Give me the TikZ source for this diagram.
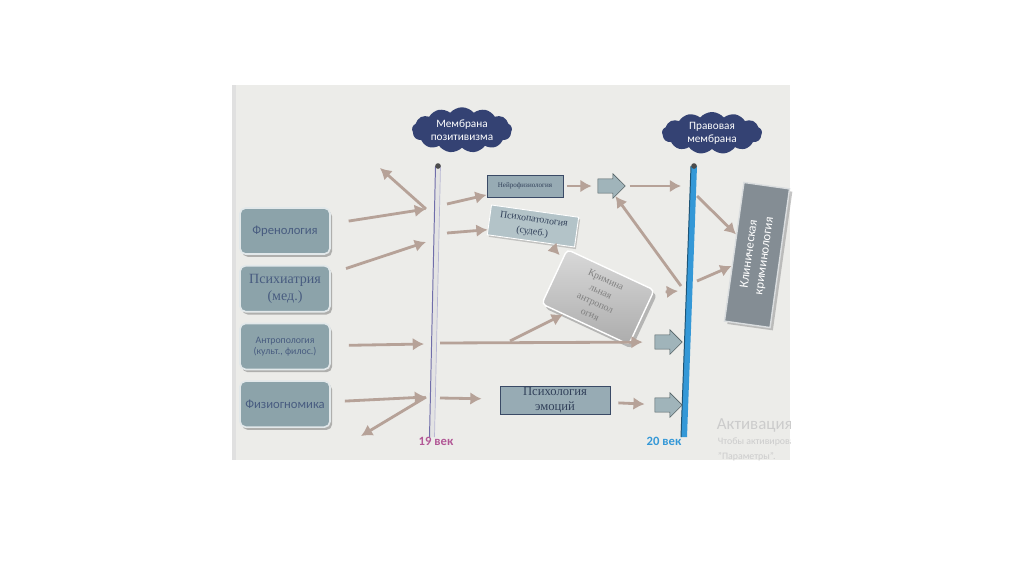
\documentclass[tikz,border=0pt]{standalone}
\usepackage{fontspec}
\setmainfont{Carlito}
\newfontfamily\serifcyr{Liberation Serif}
\usetikzlibrary{
  arrows.meta,
  calc,
  positioning,
  shapes.symbols,
  shapes.arrows,
  shadows,
}
\definecolor{slidebg}{RGB}{236,236,233}
\definecolor{arrowtan}{RGB}{182,162,152}
\definecolor{boxteal}{RGB}{140,163,170}
\definecolor{boxtext}{RGB}{72,92,128}
\definecolor{cloudblue}{RGB}{52,66,115}
\definecolor{lawblue}{RGB}{52,152,215}
\definecolor{posline}{RGB}{112,110,170}
\definecolor{oldpink}{RGB}{178,88,150}
\definecolor{blockfill}{RGB}{160,180,186}
\definecolor{slabgray}{RGB}{132,141,148}

\begin{document}
\begin{tikzpicture}[x=0.025cm, y=-0.025cm,
  srcbox/.style={draw=white!75!boxteal, line width=1.2pt, rounded corners=4pt, fill=boxteal, minimum width=2.25cm, minimum height=1.15cm, text=boxtext, align=center, drop shadow={shadow xshift=1.5pt, shadow yshift=-2pt, fill=black!55}},
  flatbox/.style={draw=boxtext!80!black, line width=0.6pt, fill=blockfill!90!boxtext, text=boxtext!70!black, align=center, inner sep=0pt, font=\serifcyr},
  arr/.style={draw=arrowtan, line width=2pt, -{Latex[length=8pt, width=9pt]}},
  gate/.style={single arrow, draw=boxteal!60!black, fill=blockfill, minimum height=0.68cm, single arrow head extend=0.13cm, inner xsep=0pt, inner ysep=0.17cm},
  membrane/.style={cloud, cloud puffs=13, cloud puff arc=100, aspect=2.4, fill=cloudblue, text=white, align=center, font=\footnotesize, inner sep=0pt, minimum width=2.5cm, minimum height=1.05cm},
]
\useasboundingbox (0,0) rectangle (1024,574);
\fill[slidebg] (232,85) rectangle (790,460);
\fill[black!12] (232,85) rectangle (236,460);

\begin{scope}
\clip (232,85) rectangle (790,460);
\node[anchor=west, text=gray!40, font=\large] (wm1) at (712,425) {Активация Windows};
\node[anchor=west, text=gray!40, font=\scriptsize] (wm2) at (713,442) {Чтобы активировать Windows};
\node[anchor=west, text=gray!40, font=\scriptsize] (wm3) at (713,457) {"Параметры".};
\end{scope}

\node[membrane] (memb1) at (462,130) {Мембрана\\позитивизма};
\node[membrane] (memb2) at (712,133) {Правовая\\мембрана};

\coordinate (m1top) at (438,166);
\coordinate (m1bot) at (432,437);
\coordinate (m2top) at (694,166);
\coordinate (m2bot) at (684,437);
\fill[gray!22] ($(m1top)+(-2.5,0)$) -- ($(m1top)+(2.5,0)$) -- ($(m1bot)+(2.5,0)$) -- ($(m1bot)+(-2.5,0)$) -- cycle;
\draw[posline, line width=0.7pt] ($(m1top)+(-2.5,0)$) -- ($(m1bot)+(-2.5,0)$);
\draw[posline!50, line width=0.5pt] ($(m1top)+(2.5,0)$) -- ($(m1bot)+(2.5,0)$);
\fill[lawblue] ($(m2top)+(-3,0)$) -- ($(m2top)+(3,0)$) -- ($(m2bot)+(3,0)$) -- ($(m2bot)+(-3,0)$) -- cycle;
\draw[lawblue!55!black, line width=0.7pt] ($(m2top)+(-3,0)$) -- ($(m2bot)+(-3,0)$);
\fill[black!70] (m1top) circle (2pt);
\fill[black!70] (m2top) circle (2pt);

\node[font=\small\bfseries, text=oldpink] (v19) at (436,441) {19 век};
\node[font=\small\bfseries, text=lawblue] (v20) at (664,441) {20 век};

\node[srcbox, font=\small] (phren) at (285,231) {Френология};
\node[srcbox, below=0.25cm of phren, font=\serifcyr] (psych) {Психиатрия\\(мед.)};
\node[srcbox, below=0.25cm of psych, font=\scriptsize] (anthro) {Антропология\\(культ., филос.)};
\node[srcbox, below=0.25cm of anthro, font=\small] (physio) {Физиогномика};

\node[flatbox, minimum width=1.9cm, minimum height=0.55cm, font=\serifcyr\tiny] (neuro) at (525,186) {Нейрофизиология};
\node[flatbox, draw=white, fill=blockfill!80!white, minimum width=2.2cm, minimum height=0.75cm, rotate=-8, font=\serifcyr\scriptsize, drop shadow={shadow xshift=1pt, shadow yshift=-1.5pt, fill=black!40}] (psypat) at (533,226) {Психопатология\\[1pt](судеб.)};
\node[draw=white, line width=1pt, rounded corners=3pt, top color=gray!30, bottom color=gray!65, minimum width=2.4cm, minimum height=1.5cm, rotate=-25, align=center, text=black!50, font=\serifcyr\scriptsize, drop shadow={shadow xshift=2pt, shadow yshift=-3pt, fill=black!50}] (krim) at (598,297) {Кримина\\[1pt]льная\\[1pt]антропол\\[1pt]огия};
\node[flatbox, minimum width=2.75cm, minimum height=0.7cm, font=\serifcyr\small] (emo) at (555,400) {Психология\\эмоций};
\node[draw=white!70!slabgray, line width=1pt, fill=slabgray, minimum width=3.5cm, minimum height=1.15cm, rotate=82, align=center, text=white, font=\small, drop shadow={shadow xshift=2pt, shadow yshift=-2pt, fill=black!45}] (clin) at (757,255) {Клиническая\\криминология};

\node[gate] (gateA) at (608,186) {};
\node[gate] (gateB) at (665,342) {};
\node[gate] (gateC) at (665,405) {};

\coordinate (j1) at (426,209);
\coordinate (j2) at (426,242);
\coordinate (j3) at (424,344);
\coordinate (j4) at (426,397);
\coordinate (back1) at (380,168);
\coordinate (back2) at (361,436);
\coordinate (r1) at (447,204);
\coordinate (r2) at (447,233);
\coordinate (r3) at (440,343);
\coordinate (r4) at (440,398);
\coordinate (fork) at (510,341);
\coordinate (k1) at (681,186);
\coordinate (k2) at (681,286);
\coordinate (k3) at (678,291);
\coordinate (k4) at (697,196);
\coordinate (k5) at (697,281);

\draw[arr, shorten <=0.45cm] (phren) -- (j1);
\draw[arr, shorten <=0.4cm] (psych) -- (j2);
\draw[arr, shorten <=0.45cm] (anthro) -- (j3);
\draw[arr, shorten <=0.35cm] (physio) -- (j4);
\draw[arr] (j1) -- (back1);
\draw[arr] (j4) -- (back2);
\draw[arr] (r1) -- (neuro);
\draw[arr] (r2) -- (psypat);
\draw[arr, shorten >=0.3cm] (r3) -- (gateB);
\draw[arr, shorten >=0.45cm] (r4) -- (emo);
\draw[arr, shorten <=0.2cm, shorten >=0.25cm] (emo) -- (gateC);
\draw[arr, shorten <=0.1cm, shorten >=0.15cm] (neuro) -- (gateA);
\draw[arr, shorten <=0.1cm] (gateA) -- (k1);
\draw[arr] (k2) -- (gateA);
\draw[arr, shorten <=0.1cm, shorten >=0.1cm] (psypat) -- (krim);
\draw[arr] (fork) -- (krim);
\draw[arr, shorten <=0.3cm] (krim) -- (k3);
\draw[arr] (k4) -- (clin);
\draw[arr] (k5) -- (clin);
\end{tikzpicture}
\end{document}
